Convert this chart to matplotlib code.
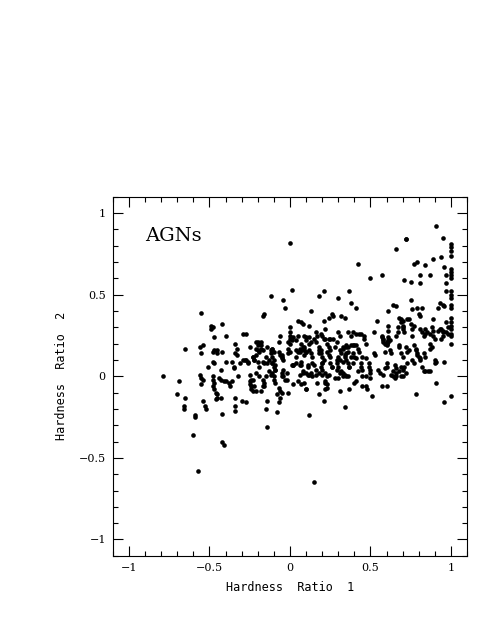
import numpy as np
import matplotlib
matplotlib.use('Agg')
import matplotlib.pyplot as plt
from matplotlib.ticker import MultipleLocator

# Hardness ratios (HR1, HR2 pairs)
hr1_left = [-0.79, -0.69, -0.70, -0.65, -0.65, -0.66, -0.66, -0.59, -0.59, -0.60,
            -0.57, -0.55, -0.56, -0.54, -0.55, -0.56, -0.55, -0.54, -0.55, -0.54,
            -0.53, -0.52, -0.51]
hr2_left = [0.00, -0.03, -0.11, 0.17, -0.13, -0.18, -0.20, -0.24, -0.25, -0.36,
            -0.58, 0.39, 0.18, 0.19, 0.14, 0.01, -0.01, -0.02, -0.05, -0.15,
            -0.18, -0.20, 0.06]

hr1_a = [-0.49, -0.48, -0.49, -0.47, -0.48, -0.47, -0.45, -0.45, -0.48, -0.47,
         -0.48, -0.48, -0.47, -0.48, -0.47, -0.46, -0.45, -0.45, -0.46, -0.43,
         -0.42, -0.42, -0.43, -0.44, -0.43, -0.41, -0.40, -0.42, -0.42, -0.41,
         -0.40, -0.40, -0.38, -0.36, -0.37, -0.36, -0.35, -0.35, -0.34, -0.34,
         -0.34, -0.34, -0.33, -0.34, -0.33, -0.32, -0.31, -0.30]
hr2_a = [0.31, 0.30, 0.29, 0.24, 0.15, 0.16, 0.16, 0.14, 0.09, 0.08,
         0.00, -0.02, -0.04, -0.06, -0.08, -0.10, -0.11, -0.13, -0.14, -0.13,
         0.32, 0.15, 0.04, -0.01, -0.02, -0.03, -0.03, -0.23, -0.40, -0.42,
         0.25, 0.09, -0.04, -0.03, -0.06, 0.09, 0.06, 0.05, -0.13, -0.18,
         -0.21, 0.20, 0.17, 0.14, 0.13, 0.00, 0.08, -0.15]

hr1_b = [-0.29, -0.27, -0.29, -0.27, -0.26, -0.27, -0.25, -0.25, -0.25, -0.25,
         -0.24, -0.24, -0.23, -0.21, -0.23, -0.22, -0.21, -0.21, -0.20, -0.18,
         -0.20, -0.19, -0.18, -0.17, -0.21, -0.19, -0.19, -0.18, -0.17, -0.17,
         -0.16, -0.16, -0.17, -0.15, -0.16, -0.15, -0.14, -0.14, -0.14, -0.12,
         -0.12, -0.11, -0.12, -0.10, -0.13, -0.12, -0.11, -0.11, -0.10, -0.11,
         -0.10, -0.10, -0.08, -0.08, -0.09, -0.09, -0.07, -0.07, -0.06, -0.07,
         -0.06, -0.05, -0.06, -0.05, -0.05, -0.04, -0.05, -0.04, -0.02, -0.04,
         -0.03, -0.04, -0.02, -0.01, -0.01, 0.00]
hr2_b = [0.26, 0.26, 0.10, 0.10, 0.08, -0.16, 0.18, 0.01, -0.03, -0.05,
         -0.06, -0.02, -0.09, -0.09, 0.12, 0.10, 0.13, 0.21, 0.19, 0.21,
         0.16, 0.15, 0.17, 0.16, 0.02, 0.00, 0.06, -0.09, -0.06, 0.37,
         0.38, 0.08, 0.09, 0.00, -0.06, -0.20, -0.31, 0.18, -0.15, 0.49,
         0.16, 0.17, 0.14, 0.15, 0.03, 0.01, 0.02, 0.12, 0.10, 0.08,
         0.00, -0.02, -0.22, -0.11, 0.07, 0.04, 0.21, 0.15, 0.13, -0.16,
         -0.13, -0.10, 0.25, 0.11, 0.13, 0.10, 0.00, 0.00, -0.02, 0.47,
         0.42, 0.04, 0.02, -0.10, 0.21, 0.20]

hr1_c = [0.00, 0.01, 0.00, 0.00, 0.00, 0.00, -0.01, 0.00, -0.01, 0.01,
         0.02, 0.01, 0.02, 0.02, 0.04, 0.05, 0.04, 0.05, 0.04, 0.05,
         0.07, 0.08, 0.06, 0.06, 0.07, 0.07, 0.06, 0.08, 0.09, 0.10,
         0.10, 0.09, 0.08, 0.10, 0.10, 0.11, 0.11, 0.12, 0.13, 0.12,
         0.12, 0.13, 0.12, 0.13, 0.14, 0.11, 0.13, 0.14, 0.16, 0.14,
         0.15, 0.15, 0.15, 0.16, 0.16, 0.17, 0.17, 0.18, 0.18, 0.19,
         0.18, 0.18, 0.19, 0.20, 0.20, 0.19, 0.20, 0.21, 0.21, 0.21,
         0.22, 0.24, 0.25, 0.27, 0.22, 0.21, 0.23, 0.22, 0.23, 0.24,
         0.23, 0.24, 0.25, 0.24, 0.26, 0.27, 0.25, 0.26, 0.28, 0.29,
         0.29, 0.29, 0.30, 0.28, 0.30, 0.30, 0.30, 0.31, 0.31, 0.32,
         0.31, 0.32, 0.33, 0.34, 0.35, 0.36, 0.32, 0.34, 0.33, 0.35,
         0.36, 0.34, 0.35, 0.36, 0.34, 0.36, 0.36, 0.37, 0.37, 0.37]
hr2_c = [0.82, 0.53, 0.30, 0.27, 0.25, 0.23, 0.17, 0.15, 0.14, 0.07,
         0.07, 0.22, 0.24, -0.05, 0.22, 0.25, 0.16, 0.15, 0.12, 0.34,
         0.33, 0.32, 0.15, 0.17, 0.09, 0.07, 0.01, 0.02, 0.25, 0.24,
         0.22, 0.18, 0.16, 0.15, -0.08, 0.07, 0.06, 0.24, 0.21, -0.24,
         0.31, 0.40, 0.16, 0.14, 0.12, 0.01, 0.02, 0.00, 0.01, 0.08,
         0.07, -0.65, 0.23, 0.21, 0.27, 0.25, -0.04, 0.49, 0.18, 0.16,
         0.14, -0.11, 0.26, 0.25, 0.08, 0.06, 0.04, 0.52, -0.15, 0.23,
         0.23, 0.23, 0.23, 0.23, 0.29, 0.34, -0.07, -0.04, 0.00, 0.01,
         0.15, 0.13, 0.12, 0.36, 0.38, 0.37, 0.08, 0.06, 0.18, 0.21,
         0.10, 0.08, 0.06, -0.01, -0.01, 0.48, 0.27, 0.25, 0.16, 0.14,
         -0.09, 0.03, 0.02, 0.01, 0.00, 0.00, 0.37, 0.36, 0.17, 0.18,
         0.18, 0.12, 0.14, 0.15, -0.19, 0.27, 0.08, 0.06, -0.08, 0.52]

hr1_d = [0.38, 0.39, 0.40, 0.38, 0.39, 0.41, 0.43, 0.44, 0.38, 0.41,
         0.39, 0.40, 0.40, 0.41, 0.42, 0.41, 0.42, 0.43, 0.44, 0.44,
         0.45, 0.45, 0.45, 0.47, 0.46, 0.46, 0.47, 0.48, 0.49, 0.49,
         0.50, 0.50, 0.50, 0.50, 0.51, 0.52, 0.52, 0.53, 0.54, 0.55,
         0.56, 0.57, 0.57, 0.58, 0.58, 0.59, 0.60, 0.60, 0.61, 0.61,
         0.57, 0.59, 0.58, 0.60, 0.60, 0.59, 0.60, 0.61, 0.61, 0.61,
         0.62, 0.63, 0.63, 0.64, 0.64, 0.66, 0.65, 0.66, 0.65, 0.66]
hr2_d = [0.19, 0.19, 0.19, 0.25, 0.27, 0.26, 0.26, 0.26, 0.45, 0.42,
         0.14, 0.12, -0.04, -0.03, 0.69, 0.19, 0.17, 0.15, 0.08, 0.06,
         0.04, 0.00, -0.06, -0.06, 0.25, 0.23, 0.20, -0.08, 0.08, 0.06,
         0.04, 0.60, 0.02, -0.01, -0.12, 0.27, 0.14, 0.13, 0.34, 0.04,
         0.02, 0.62, 0.25, 0.23, 0.21, 0.20, 0.19, 0.20, 0.21, 0.22,
         -0.06, 0.15, 0.01, 0.08, 0.06, 0.05, -0.06, 0.40, 0.31, 0.28,
         0.16, 0.14, 0.01, 0.03, 0.44, 0.43, 0.07, 0.05, -0.01, 0.00]

hr1_e = [0.66, 0.66, 0.67, 0.68, 0.68, 0.68, 0.69, 0.70, 0.70, 0.70,
         0.71, 0.69, 0.70, 0.69, 0.70, 0.69, 0.70, 0.71, 0.72, 0.72,
         0.72, 0.73, 0.74, 0.72, 0.73, 0.74, 0.75, 0.75, 0.76, 0.77,
         0.76, 0.75, 0.76, 0.76, 0.77, 0.77, 0.77, 0.78, 0.78, 0.79,
         0.79, 0.79, 0.80, 0.81, 0.80, 0.81, 0.81, 0.81, 0.81, 0.82,
         0.83, 0.84, 0.82, 0.83, 0.84, 0.86, 0.87, 0.82, 0.83, 0.84,
         0.84, 0.84, 0.85, 0.87, 0.87, 0.88, 0.87, 0.87, 0.88, 0.89,
         0.89, 0.89, 0.89, 0.90, 0.90, 0.91, 0.90, 0.91, 0.91, 0.92,
         0.93, 0.92, 0.94, 0.95, 0.94, 0.95, 0.94, 0.95, 0.95, 0.96,
         0.96, 0.96, 0.96, 0.97, 0.97, 0.97, 0.97, 0.98, 0.97, 0.98]
hr2_e = [0.78, 0.25, 0.27, 0.19, 0.18, 0.36, 0.35, 0.34, 0.31, 0.29,
         0.27, 0.14, 0.12, 0.06, 0.04, 0.00, 0.00, 0.59, 0.84, 0.84,
         0.18, 0.15, 0.16, 0.02, 0.35, 0.35, 0.58, 0.32, 0.29, 0.31,
         0.25, 0.47, 0.41, 0.10, 0.08, 0.69, 0.19, 0.17, -0.11, 0.70,
         0.42, 0.13, 0.12, 0.11, 0.38, 0.37, 0.62, 0.57, 0.29, 0.27,
         0.25, 0.26, 0.06, 0.03, 0.03, 0.03, 0.03, 0.42, 0.14, 0.12,
         0.68, 0.29, 0.27, 0.26, 0.20, 0.18, 0.17, 0.62, 0.30, 0.28,
         0.72, 0.35, 0.25, 0.23, 0.10, 0.09, 0.08, -0.04, 0.92, 0.42,
         0.45, 0.28, 0.29, 0.27, 0.23, 0.25, 0.73, 0.85, 0.44, 0.43,
         0.09, -0.16, 0.67, 0.62, 0.57, 0.52, 0.27, 0.26, 0.33, 0.30]

hr1_edge = [1.00] * 21
hr2_edge = [0.81, 0.79, 0.77, 0.74, 0.66, 0.64, 0.62, 0.60, 0.52, 0.50,
            0.48, 0.44, 0.42, 0.36, 0.33, 0.31, 0.29, 0.26, 0.25, 0.20, -0.12]

# extra sources in the crowded band, read from close-ups
hr1_core = [-0.20, -0.18, -0.21, -0.11, -0.05, 0.07, 0.08, 0.09, 0.10, 0.09,
            0.12, 0.18, 0.19, 0.20, 0.21, 0.20, 0.23, 0.24, 0.25, 0.30,
            0.31, 0.33, 0.35, -0.28, -0.26, -0.23, -0.22, -0.20, -0.15, -0.13,
            -0.14, -0.11, -0.10, -0.09, 0.02, 0.04, 0.06, 0.08, 0.10, 0.12,
            0.16, 0.18, 0.20, 0.22, 0.26, 0.29, 0.31, 0.33, -0.23, -0.22,
            -0.17, -0.16, -0.09, -0.05, -0.03, 0.05, 0.07, 0.09, 0.22, 0.23,
            -0.07, -0.06, -0.24, 0.10, 0.22, 0.57, 0.58, 0.60, 0.62, 0.61,
            0.33, 0.35, 0.34, 0.38, 0.41, 0.45, 0.47, 0.37, 0.39, 0.42,
            0.47, 0.64, 0.66, 0.68, 0.71, 0.73, 0.67, 0.69, 0.70, 0.78,
            0.79, 0.81, 0.93, 0.95]
hr2_core = [0.21, 0.19, 0.17, 0.17, 0.12, 0.20, 0.18, 0.17, 0.15, 0.13,
            0.20, 0.16, 0.14, 0.12, 0.10, 0.08, 0.20, 0.18, 0.16, 0.12,
            0.10, 0.09, 0.10, 0.10, 0.09, 0.12, 0.10, 0.09, 0.12, 0.10,
            0.08, 0.08, 0.06, 0.04, 0.07, 0.08, 0.07, 0.03, 0.02, 0.01,
            0.04, 0.02, 0.01, 0.02, 0.06, 0.04, 0.02, 0.00, -0.02, -0.06,
            -0.02, -0.04, -0.04, 0.02, -0.02, -0.03, -0.05, -0.04, -0.03, -0.05,
            -0.07, -0.09, -0.08, -0.08, -0.08, 0.24, 0.22, 0.21, 0.22, 0.24,
            0.18, 0.19, 0.13, 0.12, 0.11, 0.12, 0.11, 0.06, 0.08, 0.03,
            0.00, 0.00, 0.02, 0.03, 0.06, 0.08, 0.30, 0.33, 0.30, 0.16,
            0.14, 0.10, 0.29, 0.28]

hr1 = np.concatenate([hr1_left, hr1_a, hr1_b, hr1_c, hr1_d, hr1_e, hr1_edge, hr1_core])
hr2 = np.concatenate([hr2_left, hr2_a, hr2_b, hr2_c, hr2_d, hr2_e, hr2_edge, hr2_core])

fig = plt.figure(figsize=(4.8, 6.21), dpi=100)
ax = fig.add_axes([0.235, 0.105, 0.738, 0.578])

ax.scatter(hr1, hr2, s=11, c='black', marker='o', linewidths=0)

ax.set_xlim(-1.1, 1.1)
ax.set_ylim(-1.1, 1.1)
ax.xaxis.set_major_locator(MultipleLocator(0.5))
ax.xaxis.set_minor_locator(MultipleLocator(0.1))
ax.yaxis.set_major_locator(MultipleLocator(0.5))
ax.yaxis.set_minor_locator(MultipleLocator(0.1))
fmt = lambda v, pos: ('%g' % v).replace('-', '\u2212')
ax.xaxis.set_major_formatter(fmt)
ax.yaxis.set_major_formatter(fmt)
ax.tick_params(which='both', direction='in', top=True, right=True,
               labelsize=8, width=0.8)
ax.tick_params(which='major', length=7, pad=5)
ax.tick_params(which='minor', length=3.5)
for lab in ax.get_xticklabels() + ax.get_yticklabels():
    lab.set_family('DejaVu Serif')
for sp in ax.spines.values():
    sp.set_linewidth(0.8)

ax.set_xlabel('Hardness  Ratio  1', family='DejaVu Sans Mono', fontsize=8.5, labelpad=6)
ax.set_ylabel('Hardness  Ratio  2', family='DejaVu Sans Mono', fontsize=8.5, labelpad=8)
ax.text(-0.9, 0.83, 'AGNs', family='DejaVu Serif', fontsize=14)

fig.savefig('out.png', dpi=100)
